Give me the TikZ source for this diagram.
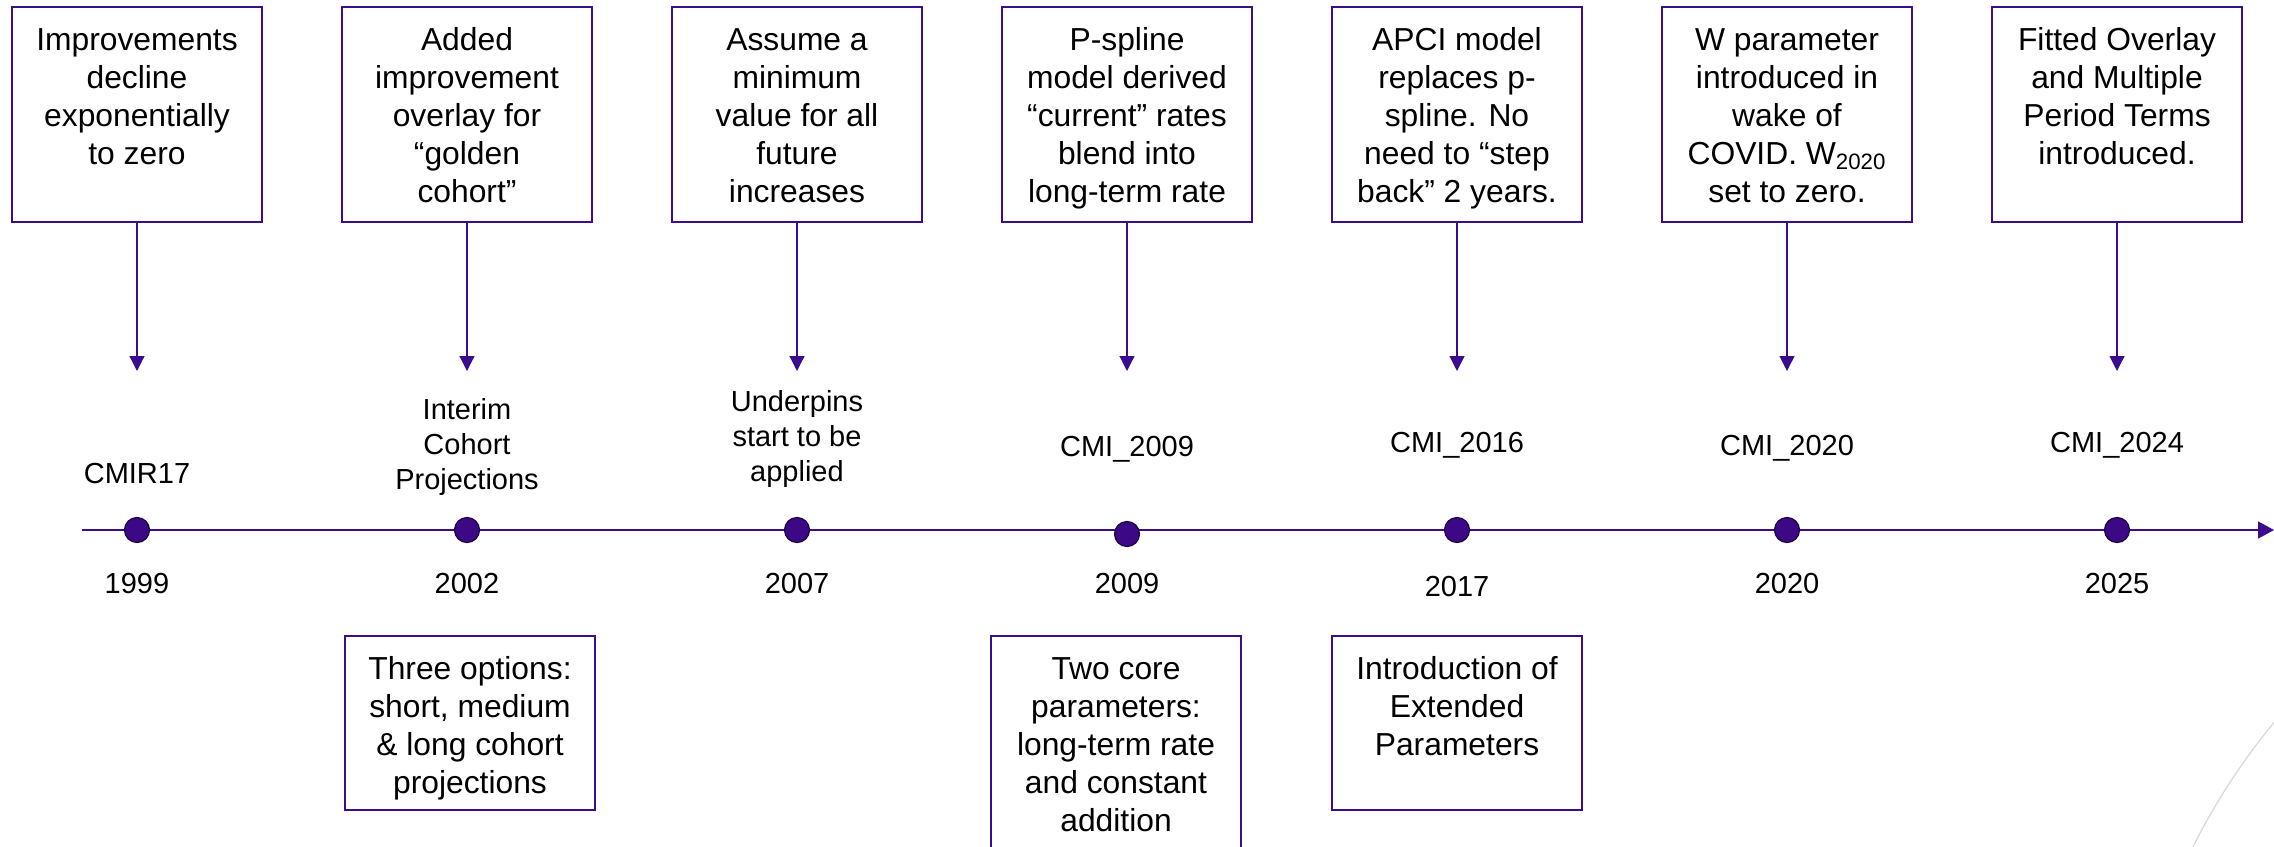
\documentclass[tikz,border=0pt]{standalone}
\usepackage{fontspec}
\setmainfont{Liberation Sans}
\usepackage{xcolor}
\usepackage{tikz}
\usetikzlibrary{arrows.meta,positioning,calc}

\definecolor{cmipurple}{RGB}{60,12,142}
\definecolor{dotfill}{RGB}{60,8,134}
\definecolor{dotedge}{RGB}{28,4,66}
\definecolor{arcgrey}{RGB}{212,216,219}

% text kept at the top of a box of fixed height
\newcommand{\boxlines}[2]{\parbox[c][#1][t]{120pt}{\centering\strut #2}}

\begin{document}
\begin{tikzpicture}[x=0.5pt, y=-0.5pt, >={Triangle[width=7.5pt,length=7.5pt]}]
        % Style definitions
        \tikzset{
            topbox/.style={draw=cmipurple, fill=white, rectangle, line width=1.4pt, anchor=north, inner xsep=2.5pt, inner ysep=8.2pt, outer sep=0pt, font=\fontsize{15.9}{19}\selectfont},
            lowbox/.style={topbox},
            evdot/.style={draw=dotedge, fill=dotfill, circle, minimum size=12.5pt, inner sep=0pt, line width=0.6pt},
            lbl/.style={inner sep=0pt, align=center, font=\fontsize{14.5}{17.5}\selectfont},
            conn/.style={->, draw=cmipurple, line width=0.6pt}
        }
        \useasboundingbox (0,0) rectangle (2274,846);
        \clip (0,0) rectangle (2274,846);

        % Top boxes
        \node [topbox] (n1999) at (137,7) {\boxlines{91.1pt}{Improvements\\decline\\exponentially\\to zero}};
        \node [topbox, right=40pt of n1999] (n2002) {\boxlines{91.1pt}{Added\\improvement\\overlay for\\“golden\\cohort”}};
        \node [topbox, right=40pt of n2002] (n2007) {\boxlines{91.1pt}{Assume a\\minimum\\value for all\\future\\increases}};
        \node [topbox, right=40pt of n2007] (n2009) {\boxlines{91.1pt}{P-spline\\model derived\\“current” rates\\blend into\\long-term rate}};
        \node [topbox, right=40pt of n2009] (n2017) {\boxlines{91.1pt}{APCI model\\replaces p-\\spline. No\\need to “step\\back” 2 years.}};
        \node [topbox, right=40pt of n2017] (n2020) {\boxlines{91.1pt}{W parameter\\introduced in\\wake of\\COVID. W\textsubscript{2020}\\set to zero.}};
        \node [topbox, right=40pt of n2020] (n2025) {\boxlines{91.1pt}{Fitted Overlay\\and Multiple\\Period Terms\\introduced.}};

        % Arrows down from the boxes
        \coordinate (tips) at (0,371);
        \foreach \yr in {1999,2002,2007,2009,2017,2020,2025}
            \draw [conn] (n\yr.south) -- (n\yr.south |- tips);

        % Time axis
        \coordinate (axstart) at (82,530);
        \coordinate (axend) at (2274,530);
        \draw [conn, line width=0.7pt, -{Triangle[width=8.5pt,length=8pt]}] (axstart) -- (axend);
        \foreach \yr in {1999,2002,2007,2017,2020,2025}
            \node [evdot] (d\yr) at (n\yr |- axstart) {};
        \node [evdot] (d2009) at ($(n2009 |- axstart)+(0,4)$) {};

        % Labels above the axis
        \node [lbl, anchor=base] (l1999) at ($(d1999)+(0,-47)$) {CMIR17};
        \node [lbl, anchor=north] (l2002) at ($(d2002)+(0,-132)$) {Interim\\Cohort\\Projections};
        \node [lbl, anchor=north] (l2007) at ($(d2007)+(0,-140)$) {Underpins\\start to be\\applied};
        \node [lbl, anchor=base] (l2009) at ($(d2009)+(0,-78)$) {CMI\_2009};
        \node [lbl, anchor=base] (l2017) at ($(d2017)+(0,-78)$) {CMI\_2016};
        \node [lbl, anchor=base] (l2020) at ($(d2020)+(0,-75)$) {CMI\_2020};
        \node [lbl, anchor=base] (l2025) at ($(d2025)+(0,-78)$) {CMI\_2024};

        % Years below the axis
        \foreach \yr/\off in {1999/63, 2002/63, 2007/63, 2009/59, 2017/66, 2020/63, 2025/63}
            \node [lbl, anchor=base] (y\yr) at ($(d\yr)+(0,\off)$) {\yr};

        % Lower boxes
        \node [lowbox] (o2002) at (470,636) {\boxlines{70.6pt}{Three options:\\short, medium\\\& long cohort\\projections}};
        \node [lowbox] (o2009) at (1116,636) {\boxlines{98.6pt}{Two core\\parameters:\\long-term rate\\and constant\\addition}};
        \node [lowbox] (o2017) at (1457,636) {\boxlines{70.6pt}{Introduction of\\Extended\\Parameters}};

        % Grey arc in the corner
        \draw [arcgrey, line width=0.6pt] (2780,1140) circle [radius=656];
    \end{tikzpicture}
\end{document}
